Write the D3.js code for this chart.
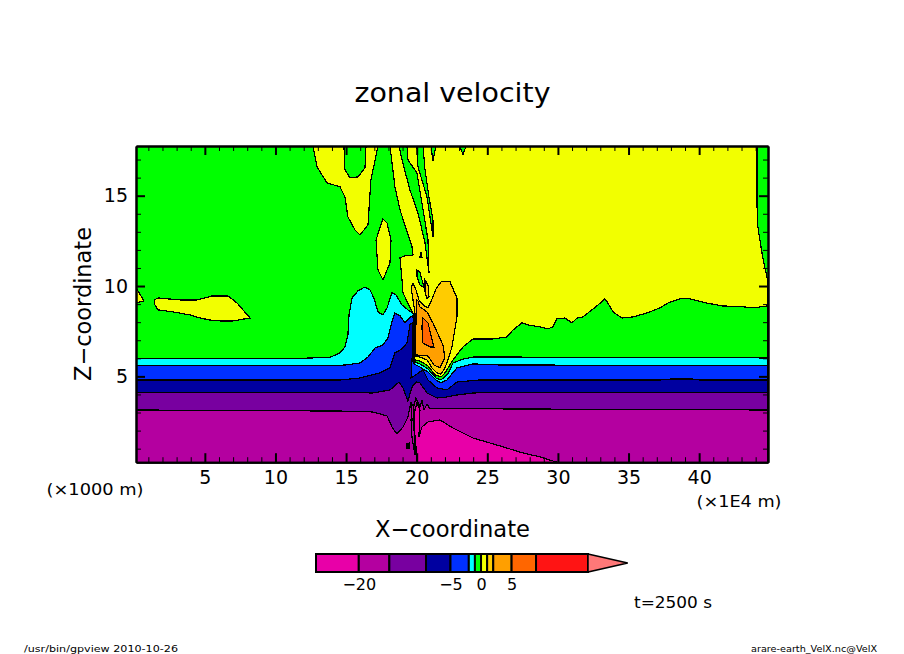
<!DOCTYPE html>
<html>
<head>
<meta charset="utf-8">
<script src="https://cdn.jsdelivr.net/npm/d3@7"></script>
<style>
  html, body { margin: 0; padding: 0; background: #fff; }
  svg { display: block; }
  text { font-family: "DejaVu Sans", sans-serif; fill: #000; }
  .contour { shape-rendering: crispEdges; }
</style>
</head>
<body>
<svg id="chart" width="904" height="654"></svg>
<script>
// colour levels of the bar (m/s)
const levels = [-27, -20, -15, -9, -5, -2, -1, 0, 1, 2, 5, 9, 17.5];
const levelTip = 24;
const levelLabels = [-20, -5, 0, 5];
const colors = ["#e800a8", "#b400a0", "#7800a0", "#0000a0", "#0030ff", "#00ffff", "#00ff00",
  "#f2ff00", "#ffcc00", "#ff9f00", "#ff6600", "#ff1414", "#ff7878"];

const xMajor = [5, 10, 15, 20, 25, 30, 35, 40];
const zMajor = [5, 10, 15];

// contour outlines, [x (1E4 m), z (1000 m)]
const yellowTop = [[18.11, 17.75], [44.09, 17.75], [44.09, 14.6], [44.16, 13.27], [44.3, 12.55], [44.45, 11.83],
  [44.66, 11.0], [44.8, 10.5], [44.875, 10.34]];
const yellowEdge = [[44.875, 8.9], [43.81, 8.79], [43.1, 8.85], [41.61, 8.9], [40.55, 9.06], [39.35, 9.29], [38.64, 9.29],
  [37.79, 9.06], [37.22, 8.79], [36.3, 8.51], [35.31, 8.29], [34.53, 8.23], [33.9, 8.57], [33.54, 9.06], [33.33, 9.29],
  [32.76, 8.9], [31.77, 8.29], [31.35, 8.23], [30.99, 7.96], [30.5, 8.23], [29.93, 8.18], [29.65, 7.74], [29.29, 7.63],
  [28.73, 7.74], [27.88, 7.85], [27.45, 7.96], [26.82, 7.57], [26.39, 7.18], [25.4, 7.07], [23.98, 7.07], [23.28, 6.63],
  [22.57, 5.91], [22.0, 5.19]];
const yellowLeft = [[21.72, 4.91], [19.81, 4.91], [19.81, 8.46], [19.67, 8.57], [19.03, 9.62], [18.96, 10.34], [18.82, 11.56],
  [19.17, 11.67], [19.74, 11.72], [19.67, 12.17], [18.82, 14.21], [18.46, 15.49]];
const yellowBlobTop = [[12.66, 17.75], [12.94, 16.6], [13.65, 15.71], [14.57, 15.49], [14.92, 14.93], [15.13, 13.83],
  [15.63, 13.11], [15.98, 12.83], [16.55, 13.38], [16.76, 15.88], [17.26, 17.75]];
const greenHole = [[14.85, 17.75], [14.92, 16.43], [15.28, 15.99], [15.84, 16.04], [16.34, 16.54], [16.41, 17.75]];
const yellowOval = [[17.61, 13.72], [17.12, 12.55], [17.26, 10.89], [17.61, 10.34], [18.11, 11.28], [18.18, 12.55], [17.9, 13.49]];
const yellowLeftBlob = [[1.4, 9.23], [1.68, 9.34], [3.24, 9.23], [4.44, 9.23], [5.51, 9.45], [6.64, 9.45], [7.28, 9.06], [8.2, 8.23],
  [6.99, 8.07], [6.07, 8.07], [5.36, 8.12], [4.66, 8.23], [3.95, 8.4], [2.75, 8.57], [1.68, 8.68], [1.47, 8.95]];
const yellowEdgeBit = [[0.125, 9.9], [0.69, 9.18], [0.125, 9.06]];
const greenStripA = [[18.75, 17.75], [18.96, 16.98], [19.52, 15.32], [20.09, 14.05], [20.59, 12.39], [20.87, 10.73],
  [20.8, 12.55], [20.37, 14.6], [20.02, 16.26], [19.38, 16.98], [19.31, 17.75]];
const greenStripE = [[20.02, 17.75], [20.09, 16.6], [20.73, 14.93], [21.08, 13.11], [21.15, 12.72], [21.15, 13.66],
  [20.87, 14.93], [20.59, 16.43], [20.45, 17.75]];
const greenTipF = [[21.01, 17.75], [21.15, 16.93], [21.37, 17.75]];
const greenTipG = [[23.06, 17.75], [23.28, 17.26], [23.49, 17.75]];
const greenBitH = [[20.02, 10.89], [20.23, 10.78], [20.52, 9.9], [20.23, 10.06], [20.02, 10.5]];
const greenBitJ = [[20.3, 11.89], [20.37, 11.61], [20.23, 11.61]];
const goldLobe = [[19.6, 9.9], [19.74, 10.17], [19.95, 9.78], [20.16, 9.23], [20.52, 8.9], [20.8, 8.79], [21.15, 9.4], [21.37, 9.84],
  [21.72, 10.23], [22.36, 10.23], [22.85, 9.34], [22.85, 8.29], [22.5, 6.63], [22.21, 5.91], [22.0, 5.47], [21.72, 5.13],
  [21.44, 5.19], [21.08, 5.47], [20.73, 5.91], [20.23, 6.07], [19.88, 6.13], [19.95, 8.12], [19.74, 9.23]];
const goldStreak = [[20.59, 10.34], [20.8, 10.06], [20.87, 9.4], [20.73, 9.29], [20.59, 9.68]];
const orangeCore = [[20.09, 9.18], [20.23, 8.84], [20.73, 8.57], [21.15, 7.96], [21.86, 6.74], [22.0, 6.02], [21.65, 5.47],
  [21.22, 5.63], [20.8, 6.13], [19.88, 6.19], [19.95, 8.01], [20.02, 9.23]];
const darkOrangeCore = [[20.37, 7.74], [20.44, 8.23], [20.8, 7.96], [21.22, 6.63], [20.94, 6.63], [20.44, 6.85]];
const greenLow = [[21.72, 4.97], [21.3, 5.08], [20.8, 5.58], [20.23, 5.85], [19.88, 5.91], [19.88, 0.25], [44.875, 0.25]];
const cyanTop = [[0.125, 6.0], [11.74, 6.0], [13.86, 6.05], [14.57, 6.3], [14.92, 6.63], [15.13, 7.29], [15.21, 8.4], [15.42, 9.34],
  [15.84, 9.73], [16.34, 9.95], [16.69, 9.78], [16.97, 9.34], [17.26, 8.57], [17.61, 8.4], [17.9, 8.79], [18.25, 9.62], [18.53, 9.51],
  [18.96, 8.95], [19.38, 8.68], [19.74, 8.51], [19.88, 7.02], [19.84, 5.8], [20.23, 5.69], [20.8, 5.41], [21.37, 4.91], [21.72, 4.8],
  [22.21, 5.13], [22.57, 5.74], [23.28, 5.96], [23.98, 6.07], [25.9, 6.07], [44.875, 6.02]];
const blueTop = [[0.125, 5.58], [13.86, 5.58], [14.92, 5.63], [15.99, 5.74], [16.55, 6.07], [17.05, 6.57], [17.61, 6.74], [17.97, 7.13],
  [18.25, 8.01], [18.46, 8.51], [18.82, 8.35], [19.17, 7.96], [19.67, 8.35], [19.81, 8.12], [19.81, 7.02], [19.81, 5.69], [20.23, 5.52],
  [20.8, 5.24], [21.37, 4.8], [21.72, 4.64], [22.14, 4.8], [22.85, 5.47], [23.98, 5.69], [25.9, 5.63], [44.875, 5.6]];
const navyTop = [[0.125, 4.8], [14.57, 4.8], [15.99, 4.91], [17.4, 5.19], [18.11, 5.47], [18.46, 6.3], [18.96, 6.52], [19.31, 6.85],
  [19.52, 7.85], [19.67, 7.96], [19.74, 7.02], [19.67, 5.91], [19.6, 4.91], [19.81, 5.02], [20.44, 5.36], [20.8, 4.8], [21.44, 4.36],
  [22.14, 4.25], [22.85, 4.69], [24.48, 4.8], [37.22, 4.8], [37.93, 4.85], [39.56, 4.85], [40.06, 4.8], [44.875, 4.8]];
const purpleTop = [[0.125, 4.12], [14.57, 4.12], [16.9, 4.08], [18.11, 4.25], [18.75, 4.69], [19.03, 4.36], [19.38, 3.64], [19.67, 4.41],
  [19.95, 4.69], [20.23, 4.64], [20.73, 4.08], [21.44, 3.8], [22.14, 3.86], [22.85, 3.97], [23.98, 4.08], [25.9, 4.12], [44.875, 4.12]];
const darkMagentaTop = [[0.125, 3.14], [14.57, 3.08], [16.9, 3.03], [17.9, 2.81], [18.25, 2.2], [18.6, 1.81], [19.03, 2.2], [19.38, 2.75],
  [19.6, 3.58], [19.74, 3.14], [19.95, 3.8], [20.23, 3.31], [20.37, 3.69], [20.52, 3.14], [20.73, 3.47], [20.94, 3.2], [21.65, 3.2],
  [25.9, 3.2], [44.875, 3.14]];
const darkTendril = [[19.67, 3.47], [19.6, 2.59], [19.67, 1.59], [19.88, 0.65], [19.88, 1.48], [19.74, 2.59], [19.81, 3.42]];
const magentaWedge = [[20.02, 0.25], [19.95, 1.09], [19.81, 2.31], [19.88, 3.14], [20.02, 3.53], [20.23, 3.14], [20.16, 1.65], [20.37, 2.2],
  [20.8, 2.48], [21.65, 2.59], [22.57, 2.14], [23.98, 1.59], [25.9, 1.15], [27.31, 0.81], [28.73, 0.54], [29.93, 0.25]];
const purpleLoop = [[19.31, 1.26], [19.45, 1.31], [19.45, 1.04], [19.31, 1.04]];

const bottomCorners = [[44.875, 0.25], [0.125, 0.25]];

// painted in this order, later ones on top
const layers = [
  { pts: yellowTop.concat(yellowEdge, yellowLeft), c: 7 },
  { pts: yellowBlobTop, c: 7 },
  { pts: greenHole, c: 6 },
  { pts: yellowOval, c: 7 },
  { pts: yellowLeftBlob, c: 7 },
  { pts: yellowEdgeBit, c: 7 },
  { pts: greenStripA, c: 6 },
  { pts: greenStripE, c: 6 },
  { pts: greenTipF, c: 6 },
  { pts: greenTipG, c: 6 },
  { pts: greenBitH, c: 6 },
  { pts: greenBitJ, c: 6 },
  { pts: goldLobe, c: 8 },
  { pts: goldStreak, c: 8 },
  { pts: orangeCore, c: 9 },
  { pts: darkOrangeCore, c: 10 },
  { pts: yellowEdge.concat(greenLow), c: 6 },
  { pts: cyanTop.concat(bottomCorners), c: 5 },
  { pts: blueTop.concat(bottomCorners), c: 4 },
  { pts: navyTop.concat(bottomCorners), c: 3 },
  { pts: purpleTop.concat(bottomCorners), c: 2 },
  { pts: darkMagentaTop.concat(bottomCorners), c: 1 },
  { pts: darkTendril, c: 1 },
  { pts: magentaWedge, c: 0 },
  { pts: purpleLoop, c: 2 },
];

const svg = d3.select("#chart");
svg.append("rect").attr("width", 904).attr("height", 654).attr("fill", "#fff");

const x = d3.scaleLinear().domain([0.125, 44.875]).range([136, 768]);
const y = d3.scaleLinear().domain([0.25, 17.75]).range([462.2, 146]);

svg.append("clipPath").attr("id", "plot")
  .append("rect").attr("x", 136).attr("y", 146).attr("width", 632).attr("height", 316.2);

const line = d3.line().x((d) => x(d[0])).y((d) => y(d[1]));
const plot = svg.append("g").attr("clip-path", "url(#plot)");
plot.append("rect").attr("x", 136).attr("y", 146).attr("width", 632).attr("height", 316.2).attr("fill", colors[6]);
plot.selectAll("path")
  .data(layers)
  .enter()
  .append("path")
  .attr("class", "contour")
  .attr("d", (d) => line(d.pts) + "Z")
  .attr("fill", (d) => colors[d.c])
  .attr("stroke", "#000")
  .attr("stroke-width", 1.2);

// axes, ticks point inward on all four sides
const xMinor = d3.range(1, 45).filter((v) => !xMajor.includes(v));
const zMinor = d3.range(1, 18).filter((v) => !zMajor.includes(v));
const drawAxis = (axis, pos, ticks, len, width, labelled) => {
  const g = svg.append("g")
    .attr("transform", pos)
    .call(axis.tickValues(ticks).tickSizeInner(-len).tickSizeOuter(0).tickPadding(8));
  g.selectAll(".tick line").attr("stroke", "#000").attr("stroke-width", width);
  g.select(".domain").attr("stroke", "#000").attr("stroke-width", 2);
  g.selectAll("text").attr("font-size", 19).attr("font-family", "DejaVu Sans").style("display", labelled ? null : "none");
  return g;
};
const bottomAt = "translate(0,462.2)", topAt = "translate(0,146)", leftAt = "translate(136,0)", rightAt = "translate(768,0)";
drawAxis(d3.axisBottom(x), bottomAt, xMinor, 5, 1, false);
drawAxis(d3.axisTop(x), topAt, xMinor, 5, 1, false);
drawAxis(d3.axisLeft(y), leftAt, zMinor, 5, 1, false);
drawAxis(d3.axisRight(y), rightAt, zMinor, 5, 1, false);
drawAxis(d3.axisBottom(x), bottomAt, xMajor, 9, 2, true);
drawAxis(d3.axisTop(x), topAt, xMajor, 9, 2, false);
drawAxis(d3.axisLeft(y), leftAt, zMajor, 9, 2, true);
drawAxis(d3.axisRight(y), rightAt, zMajor, 9, 2, false);

// fixed labels, width
const label = (str, cx, cy, size, width, rotate) => {
  svg.append("text")
    .attr("transform", `translate(${cx},${cy})` + (rotate ? ` rotate(${rotate})` : ""))
    .attr("text-anchor", "middle")
    .attr("font-size", size)
    .attr("textLength", width)
    .attr("lengthAdjust", "spacingAndGlyphs")
    .text(str);
};
label("zonal velocity", 452.5, 102, 27, 196);
label("X\u2212coordinate", 452.5, 537, 23, 155);
label("Z\u2212coordinate", 91, 304, 23, 154, -90);
label("(\u00d71000 m)", 95, 495, 15, 97);
label("(\u00d71E4 m)", 739, 507, 15, 85);
label("t=2500 s", 673, 608, 15, 78);
label("/usr/bin/gpview  2010-10-26", 101, 652, 9, 154);
label("arare-earth_VelX.nc@VelX", 814, 652, 9, 126);

// colour bar
const cb = d3.scaleLinear().domain([levels[0], levels[levels.length - 1]]).range([316, 588]);
const barTop = 554, barH = 18;
const bar = svg.append("g");
bar.selectAll("rect")
  .data(d3.pairs(levels))
  .enter()
  .append("rect")
  .attr("x", (d) => cb(d[0]))
  .attr("y", barTop)
  .attr("width", (d) => cb(d[1]) - cb(d[0]))
  .attr("height", barH)
  .attr("fill", (d, i) => colors[i])
  .attr("stroke", "#000")
  .attr("stroke-width", 2);
bar.append("path")
  .attr("d", d3.line()([[cb(levels[levels.length - 1]), barTop], [cb(levelTip), barTop + barH / 2], [cb(levels[levels.length - 1]), barTop + barH]]) + "Z")
  .attr("fill", colors[12])
  .attr("stroke", "#000")
  .attr("stroke-width", 1.5);

const barAxis = svg.append("g")
  .attr("transform", `translate(0,${barTop + barH})`)
  .call(d3.axisBottom(cb).tickValues(levelLabels).tickSize(0).tickPadding(7).tickFormat((d) => (d < 0 ? "\u2212" + -d : d)));
barAxis.select(".domain").remove();
barAxis.selectAll("text").attr("font-size", 16).attr("font-family", "DejaVu Sans");
</script>
</body>
</html>
